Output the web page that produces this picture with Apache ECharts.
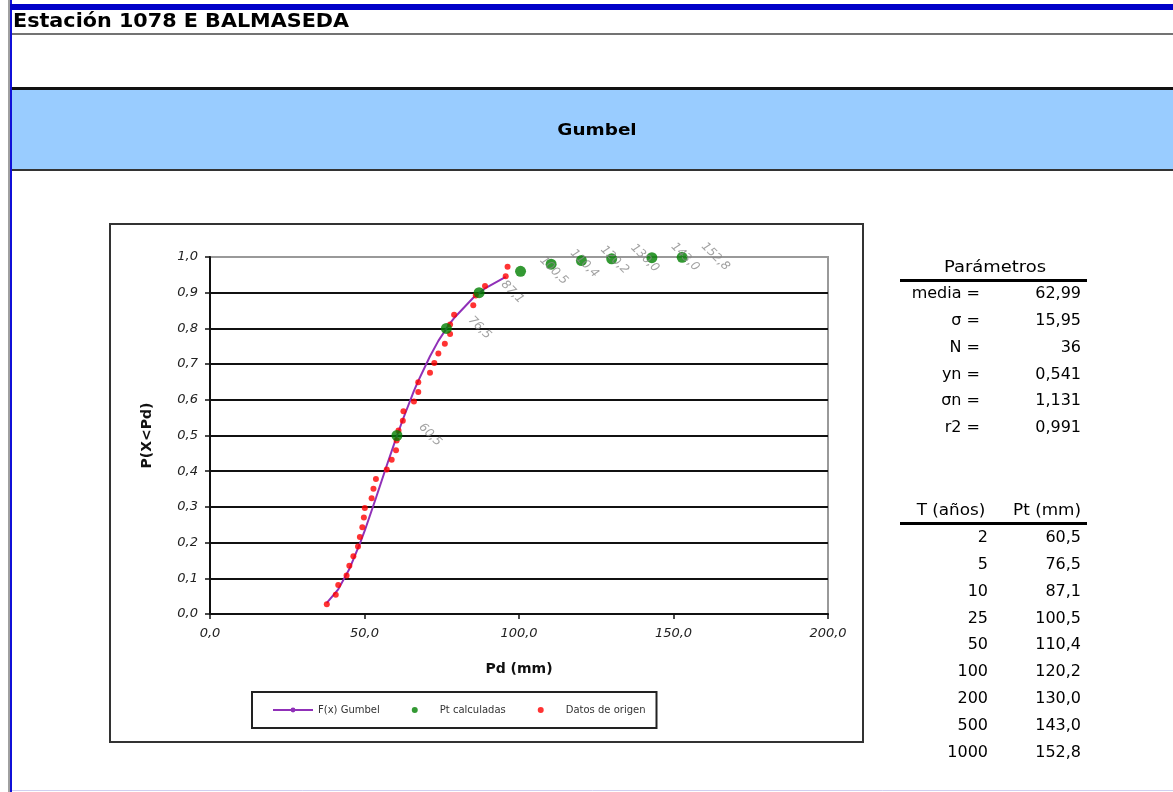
<!DOCTYPE html>
<html>
<head>
<meta charset="utf-8">
<script src="https://cdn.jsdelivr.net/npm/echarts@6/dist/echarts.min.js"></script>
<style>
  html, body { margin: 0; padding: 0; background: #fff; }
  #chart { width: 1173px; height: 792px; }
</style>
</head>
<body>
<div id="chart"></div>
<script>
// curva de Gumbel F(x)
var gumbelX = [37.8, 41.5, 45.1, 48.5, 50.1, 53.7, 57.2, 60.4, 62.6, 66.0, 67.4, 71.2, 73.9, 77.7, 79.0, 85.2, 89.0, 95.7];
var gumbelF = [0.031, 0.069, 0.126, 0.197, 0.234, 0.325, 0.416, 0.497, 0.549, 0.625, 0.653, 0.722, 0.765, 0.815, 0.829, 0.886, 0.912, 0.944];

// Pt calculadas (tabla T / Pt)
var periodoT = [2, 5, 10, 25, 50, 100, 200, 500, 1000];
var ptMm = [60.5, 76.5, 87.1, 100.5, 110.4, 120.2, 130.0, 143.0, 152.8];
var ptProb = [0.5, 0.8, 0.9, 0.96, 0.98, 0.99, 0.995, 0.998, 0.999];

// datos de origen (36 maximos)
var origenX = [37.8, 40.7, 41.5, 44.2, 45.1, 46.4, 47.9, 48.5, 49.3, 49.8, 50.1, 52.3, 52.9, 53.7, 57.2, 58.8, 60.2, 60.4,
               61.0, 62.4, 62.6, 66.0, 67.4, 67.4, 71.2, 72.6, 73.9, 76.0, 77.7, 77.7, 79.0, 85.2, 86.0, 89.0, 95.7, 96.3];
var origenP = [0.027, 0.054, 0.081, 0.108, 0.135, 0.162, 0.189, 0.216, 0.243, 0.270, 0.297, 0.324, 0.351, 0.378, 0.405, 0.432, 0.459, 0.486,
               0.514, 0.541, 0.568, 0.595, 0.622, 0.649, 0.676, 0.703, 0.730, 0.757, 0.784, 0.811, 0.838, 0.865, 0.892, 0.919, 0.946, 0.973];

// parametros
var paramNames = ["media =", "σ =", "N =", "yn =", "σn =", "r2 ="];
var paramValues = ["62,99", "15,95", "36", "0,541", "1,131", "0,991"];

function coma(v, d) {
  return v.toFixed(d).replace(".", ",");
}

function txt(x, y, s, font, align, sx, fill) {
  return {
    type: "text",
    x: x,
    y: y,
    scaleX: sx || 1,
    z: 20,
    style: {
      text: s,
      font: font,
      fill: fill || "#000",
      textAlign: align || "left",
      textVerticalAlign: "middle",
      align: align || "left",
      verticalAlign: "middle"
    }
  };
}

function hline(x1, x2, y, w, color) {
  return {
    type: "line",
    z: 15,
    shape: { x1: x1, y1: y, x2: x2, y2: y },
    style: { stroke: color, lineWidth: w }
  };
}

var graphics = [
  // marco de la hoja
  { type: "rect", z: 5, shape: { x: 8, y: 0, width: 2, height: 792 }, style: { fill: "#a0a0a0" } },
  { type: "rect", z: 5, shape: { x: 10, y: 0, width: 2, height: 792 }, style: { fill: "#1010d8" } },
  { type: "rect", z: 5, shape: { x: 10, y: 4, width: 1163, height: 6 }, style: { fill: "#0000c8" } },
  hline(12, 1173, 34, 1.5, "#444"),
  { type: "rect", z: 5, shape: { x: 12, y: 87, width: 1161, height: 3 }, style: { fill: "#111" } },
  { type: "rect", z: 5, shape: { x: 12, y: 90, width: 1161, height: 79 }, style: { fill: "#99ccff" } },
  hline(12, 1173, 170, 2, "#333"),
  hline(12, 1173, 790.5, 1, "#d0d0f0"),
  // marco del grafico
  { type: "rect", z: 5, shape: { x: 110, y: 224, width: 753, height: 518 }, style: { fill: "none", stroke: "#333", lineWidth: 2 } },
  txt(13, 22, "Estación 1078 E BALMASEDA", "bold 19px 'DejaVu Sans'", "left", 1.09),
  txt(597, 131, "Gumbel", "bold 16px 'DejaVu Sans'", "center", 1.15),
  // tabla de parametros
  txt(995, 268, "Parámetros", "16px 'DejaVu Sans'", "center", 1.12),
  hline(900, 1087, 280.5, 3, "#000"),
  // tabla T / Pt
  txt(951, 511, "T (años)", "16px 'DejaVu Sans'", "center", 1.05),
  txt(1081, 511, "Pt (mm)", "16px 'DejaVu Sans'", "right", 1.05),
  hline(900, 1087, 523.5, 3, "#000")
];

paramNames.forEach(function(n, i) {
  var y = 294 + i * 26.8;
  graphics.push(txt(980, y, n, "16px 'DejaVu Sans'", "right", 1.0));
  graphics.push(txt(1081, y, paramValues[i], "16px 'DejaVu Sans'", "right", 1.0));
});

periodoT.forEach(function(t, i) {
  var y = 538 + i * 26.8;
  graphics.push(txt(988, y, String(t), "16px 'DejaVu Sans'", "right", 1.0));
  graphics.push(txt(1081, y, coma(ptMm[i], 1), "16px 'DejaVu Sans'", "right", 1.0));
});

var gridColors = [];
for (var k = 0; k < 10; k++) gridColors.push("#111");
gridColors.push("#999");

var option = {
  backgroundColor: "#fff",
  animation: false,
  textStyle: { fontFamily: "'DejaVu Sans', sans-serif" },
  grid: {
    left: 210,
    top: 257,
    right: 1173 - 828,
    bottom: 792 - 614,
    show: true,
    borderColor: "#999",
    borderWidth: 2,
    backgroundColor: "#fff"
  },
  legend: {
    left: 252,
    top: 692,
    padding: [13, 11, 13, 20],
    itemGap: 32,
    itemWidth: 40,
    itemHeight: 6,
    borderColor: "#222",
    borderWidth: 2,
    textStyle: { fontSize: 10, color: "#333", fontFamily: "'DejaVu Sans'" },
    data: [
      { name: "F(x) Gumbel" },
      { name: "Pt calculadas" },
      { name: "Datos de origen" }
    ]
  },
  xAxis: {
    type: "value",
    min: 0,
    max: 200,
    interval: 50,
    name: "Pd (mm)",
    nameLocation: "middle",
    nameGap: 48,
    nameTextStyle: { fontWeight: "bold", fontSize: 14, color: "#111" },
    axisLine: { lineStyle: { color: "#111", width: 2 } },
    axisTick: { show: true, length: 5, lineStyle: { color: "#111", width: 1.5 } },
    axisLabel: {
      fontStyle: "italic",
      fontSize: 13,
      color: "#222",
      margin: 13,
      formatter: function(v) { return coma(v, 1); }
    },
    splitLine: { show: false }
  },
  yAxis: {
    type: "value",
    min: 0,
    max: 1,
    interval: 0.1,
    name: "P(X<Pd)",
    nameLocation: "middle",
    nameGap: 56,
    nameTextStyle: { fontWeight: "bold", fontSize: 14, color: "#111" },
    axisLine: { show: true, lineStyle: { color: "#111", width: 2 } },
    axisTick: { show: true, length: 5, lineStyle: { color: "#111", width: 1.5 } },
    axisLabel: {
      fontStyle: "italic",
      fontSize: 13,
      color: "#222",
      margin: 12,
      formatter: function(v) { return coma(v, 1); }
    },
    splitLine: { show: true, lineStyle: { color: gridColors, width: 2 } }
  },
  series: [
    {
      name: "F(x) Gumbel",
      type: "line",
      z: 2,
      showSymbol: false,
      symbol: "none",
      color: "#9030b8",
      lineStyle: { color: "#9030b8", width: 2 },
      data: gumbelX.map(function(x, i) { return [x, gumbelF[i]]; })
    },
    {
      name: "Pt calculadas",
      type: "scatter",
      z: 4,
      symbol: "circle",
      symbolSize: 11,
      color: "#008000",
      itemStyle: { color: "#008000" },
      label: {
        show: true,
        position: "inside",
        offset: [23, -24],
        rotate: -45,
        fontSize: 12,
        fontStyle: "italic",
        color: "#8a8a8a",
        formatter: function(p) { return coma(p.value[0], 1); }
      },
      data: ptMm.map(function(x, i) { return [x, ptProb[i]]; })
    },
    {
      name: "Datos de origen",
      type: "scatter",
      z: 3,
      symbol: "circle",
      symbolSize: 6,
      color: "#ff0000",
      itemStyle: { color: "#ff0000" },
      data: origenX.map(function(x, i) { return [x, origenP[i]]; })
    }
  ],
  graphic: graphics
};

var myChart = echarts.init(document.getElementById("chart"));
myChart.setOption(option);
</script>
</body>
</html>
